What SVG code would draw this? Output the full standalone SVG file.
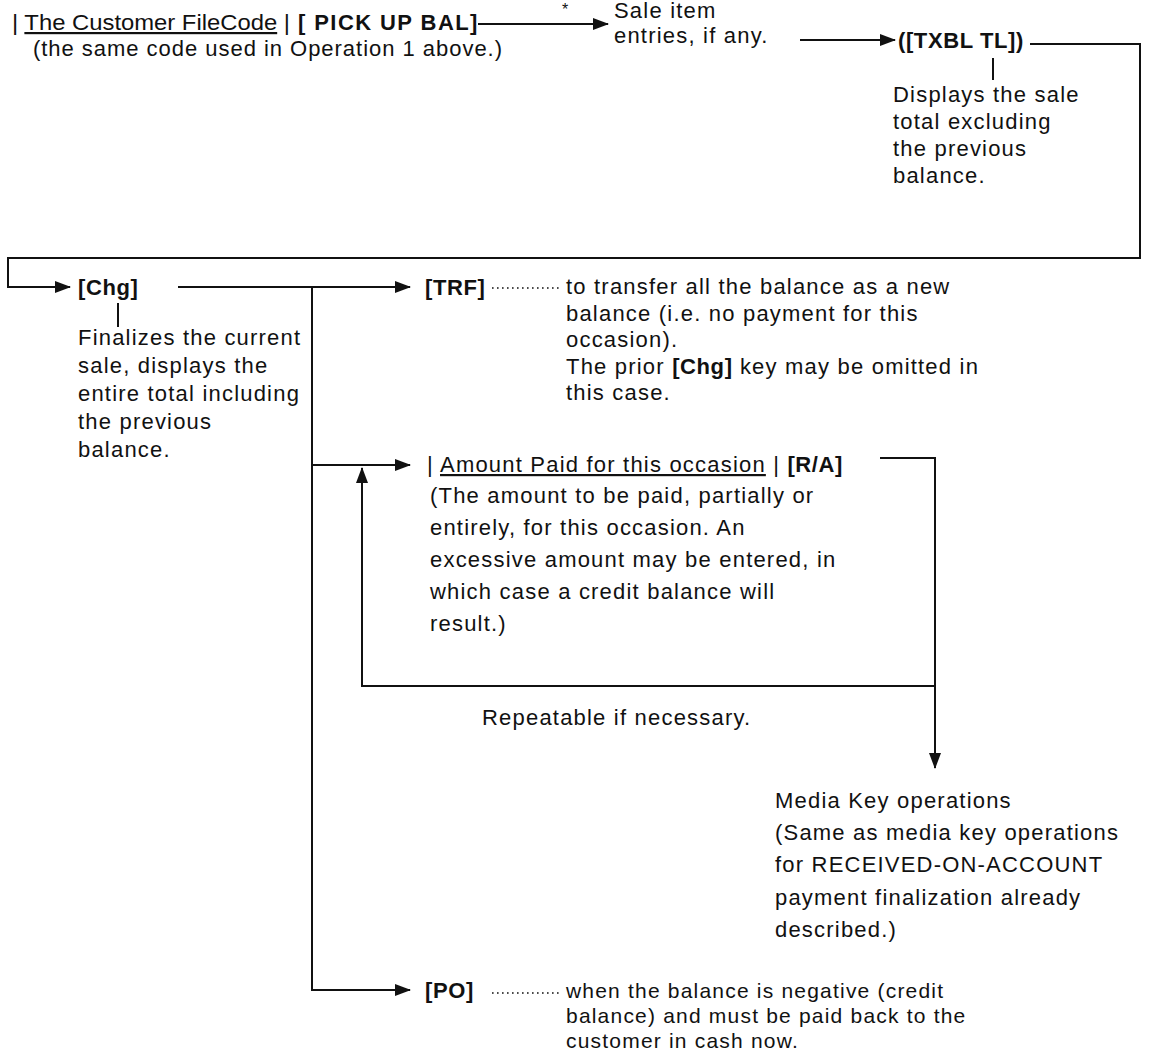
<svg xmlns="http://www.w3.org/2000/svg" width="1154" height="1055" viewBox="0 0 1154 1055">
<defs>
<marker id="ah" viewBox="0 0 16 12" refX="15" refY="6" markerWidth="16" markerHeight="12" markerUnits="userSpaceOnUse" orient="auto">
<path d="M0,0 L16,6 L0,12 z" fill="#111"/>
</marker>
</defs>
<style>
text{font-family:"Liberation Sans",Arial,sans-serif;font-size:22px;letter-spacing:1.2px;fill:#111}
.b{font-weight:bold;letter-spacing:0.6px}
.u{text-decoration:underline}
.sm{font-size:21px}
.ln{fill:none;stroke:#111;stroke-width:2}
.arr{fill:none;stroke:#111;stroke-width:2;marker-end:url(#ah)}
.dot{fill:none;stroke:#111;stroke-width:1.6;stroke-dasharray:1.6 3.4}
</style>
<rect width="1154" height="1055" fill="#fff"/>

<g id="connectors">
  <path class="arr" d="M478,24 H608"/>
  <text x="562" y="15" style="font-size:16px;letter-spacing:0">*</text>
  <path class="arr" d="M800,40 H895"/>
  <path class="arr" d="M1030,44 H1140 V258 H8 V287 H70"/>
  <path class="ln" d="M993,58 V80"/>
  <path class="ln" d="M118,303 V327"/>
  <path class="arr" d="M178,287 H410"/>
  <path class="arr" d="M312,287 V990 H410"/>
  <path class="arr" d="M312,465 H410"/>
  <path class="dot" d="M492,288 H560"/>
  <path class="dot" d="M492,993 H560"/>
  <path class="arr" d="M880,458 H935 V768"/>
  <path class="arr" d="M935,686 H362 V468"/>
</g>

<g id="n-file-code">
  <text x="12" y="30" textLength="278" lengthAdjust="spacingAndGlyphs" style="letter-spacing:0">|  <tspan class="u">The Customer FileCode</tspan> |</text>
  <text x="33" y="56" textLength="469" lengthAdjust="spacing" style="letter-spacing:0">(the same code used in Operation 1 above.)</text>
</g>
<g id="n-pick-up-bal">
  <text class="b" x="298" y="30" textLength="180" lengthAdjust="spacing">[ PICK UP BAL]</text>
</g>
<g id="n-sale-items">
  <text x="614" y="18">Sale item</text>
  <text x="614" y="43">entries, if any.</text>
</g>
<g id="n-txbl">
  <text class="b" x="898" y="48">([TXBL TL])</text>
</g>
<g id="n-txbl-note">
  <text x="893" y="102">Displays the sale</text>
  <text x="893" y="129">total excluding</text>
  <text x="893" y="156">the previous</text>
  <text x="893" y="183">balance.</text>
</g>
<g id="n-chg">
  <text class="b" x="78" y="295">[Chg]</text>
</g>
<g id="n-chg-note">
  <text x="78" y="345">Finalizes the current</text>
  <text x="78" y="373">sale, displays the</text>
  <text x="78" y="401">entire total including</text>
  <text x="78" y="429">the previous</text>
  <text x="78" y="457">balance.</text>
</g>
<g id="n-trf">
  <text class="b" x="425" y="295">[TRF]</text>
</g>
<g id="n-trf-note">
  <text x="566" y="294">to transfer all the balance as a new</text>
  <text x="566" y="321">balance (i.e. no payment for this</text>
  <text x="566" y="347">occasion).</text>
  <text x="566" y="374">The prior <tspan class="b">[Chg]</tspan> key may be omitted in</text>
  <text x="566" y="400">this case.</text>
</g>
<g id="n-amount">
  <text x="427" y="472">|  <tspan class="u">Amount Paid for this occasion</tspan> | <tspan class="b">[R/A]</tspan></text>
</g>
<g id="n-amount-note">
  <text x="430" y="503">(The amount to be paid, partially or</text>
  <text x="430" y="535">entirely, for this occasion.   An</text>
  <text x="430" y="567">excessive amount may be entered, in</text>
  <text x="430" y="599">which case a credit balance will</text>
  <text x="430" y="631">result.)</text>
</g>
<g id="n-repeat">
  <text x="482" y="725">Repeatable if necessary.</text>
</g>
<g id="n-media">
  <text x="775" y="808">Media Key operations</text>
  <text x="775" y="840">(Same as media key operations</text>
  <text x="775" y="872">for RECEIVED-ON-ACCOUNT</text>
  <text x="775" y="905">payment finalization already</text>
  <text x="775" y="937">described.)</text>
</g>
<g id="n-po">
  <text class="b" x="425" y="998">[PO]</text>
</g>
<g id="n-po-note">
  <text class="sm" x="566" y="998">when the balance is negative (credit</text>
  <text class="sm" x="566" y="1023">balance) and must be paid back to the</text>
  <text class="sm" x="566" y="1048">customer in cash now.</text>
</g>
</svg>
